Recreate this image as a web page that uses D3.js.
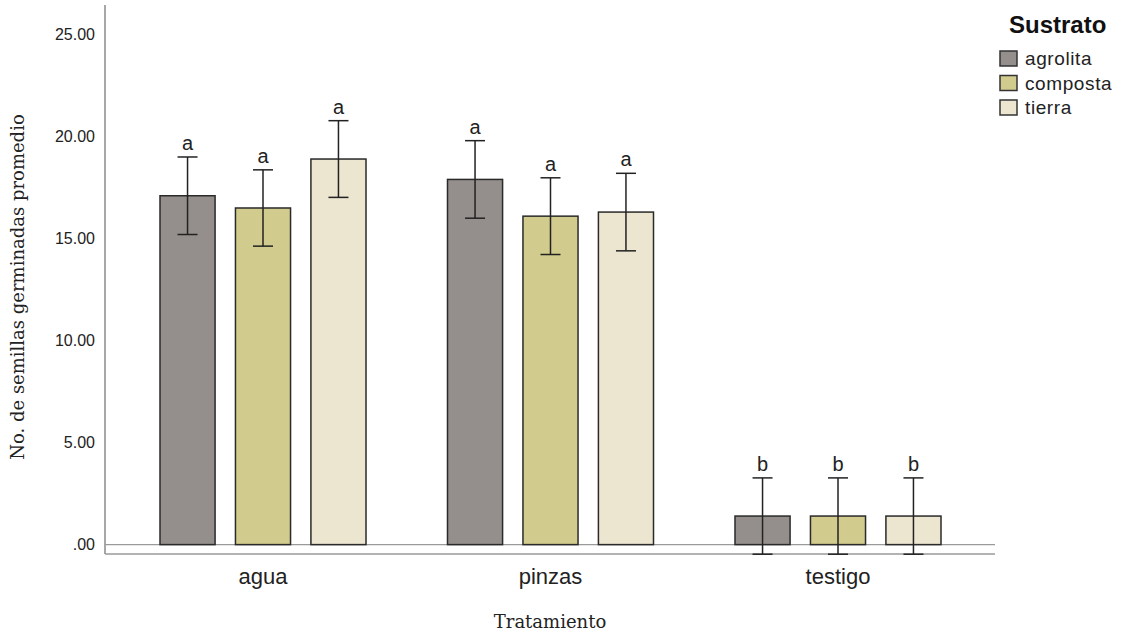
<!DOCTYPE html>
<html>
<head>
<meta charset="utf-8">
<script src="https://cdn.jsdelivr.net/npm/d3@7"></script>
<style>
  html, body { margin: 0; padding: 0; background: #fff; }
  svg { display: block; }
</style>
</head>
<body>
<svg id="chart" width="1121" height="634"></svg>
<script>
// Tratamiento groups and Sustrato series
const tratamientos = ["agua", "pinzas", "testigo"];
const sustratos = ["agrolita", "composta", "tierra"];
const colores = ["#948f8c", "#d1cb8d", "#ece5d0"];

// mean germinated seeds, one array per sustrato (in tratamiento order)
const mediaAgrolita = [17.1, 17.9, 1.4];
const mediaComposta = [16.5, 16.1, 1.4];
const mediaTierra   = [18.9, 16.3, 1.4];

// half-width of the error bars
const errorAgrolita = [1.9, 1.9, 1.87];
const errorComposta = [1.87, 1.88, 1.87];
const errorTierra   = [1.88, 1.9, 1.87];

// significance letters
const letrasAgrolita = ["a", "a", "b"];
const letrasComposta = ["a", "a", "b"];
const letrasTierra   = ["a", "a", "b"];

const yTicks = [0, 5, 10, 15, 20, 25];

const medias = [mediaAgrolita, mediaComposta, mediaTierra];
const errores = [errorAgrolita, errorComposta, errorTierra];
const letras = [letrasAgrolita, letrasComposta, letrasTierra];

const rows = [];
tratamientos.forEach((t, i) => {
  sustratos.forEach((s, j) => {
    rows.push({ t, s, j, v: medias[j][i], e: errores[j][i], l: letras[j][i] });
  });
});

const svg = d3.select("#chart");
const plot = { left: 105, right: 995, top: 5, bottom: 554 };

const y = d3.scaleLinear().domain([-0.46, 26.45]).range([plot.bottom, plot.top]);

const x0 = d3.scaleBand().domain(tratamientos)
  .range([119.25, 981.75]).paddingInner(0).paddingOuter(0);
const x1 = d3.scaleBand().domain(sustratos)
  .range([0, x0.bandwidth()]).paddingInner(0.27).paddingOuter(0.54);
const color = d3.scaleOrdinal().domain(sustratos).range(colores);

// frame: left axis, bottom axis and zero line
svg.append("line").attr("x1", plot.left).attr("x2", plot.left)
  .attr("y1", plot.top).attr("y2", plot.bottom)
  .attr("stroke", "#8a8a8a").attr("stroke-width", 1.5);
svg.append("line").attr("x1", plot.left).attr("x2", plot.right)
  .attr("y1", plot.bottom).attr("y2", plot.bottom)
  .attr("stroke", "#9a9a9a").attr("stroke-width", 1.5);
svg.append("line").attr("x1", plot.left).attr("x2", plot.right)
  .attr("y1", y(0)).attr("y2", y(0))
  .attr("stroke", "#9a9a9a").attr("stroke-width", 1.2);

// y tick labels
const yAxis = d3.axisLeft(y).tickValues(yTicks).tickSize(0).tickPadding(10)
  .tickFormat(d => d === 0 ? ".00" : d3.format(".2f")(d));
const gy = svg.append("g").attr("transform", `translate(${plot.left},0)`).call(yAxis);
gy.select(".domain").remove();
gy.selectAll("text").attr("font-family", "Liberation Sans, Arial, sans-serif")
  .attr("font-size", 16).attr("fill", "#222");

// x category labels
const xAxis = d3.axisBottom(x0).tickSize(0).tickPadding(14);
const gx = svg.append("g").attr("transform", `translate(0,${plot.bottom})`).call(xAxis);
gx.select(".domain").remove();
gx.selectAll("text").attr("font-family", "Liberation Sans, Arial, sans-serif")
  .attr("font-size", 22).attr("fill", "#222");

// bars
const barG = svg.append("g");
barG.selectAll("rect").data(rows).join("rect")
  .attr("x", d => x0(d.t) + x1(d.s))
  .attr("width", x1.bandwidth())
  .attr("y", d => y(d.v))
  .attr("height", d => y(0) - y(d.v))
  .attr("fill", d => color(d.s))
  .attr("stroke", "#2a2a2a").attr("stroke-width", 1.5);

// error bars
const cap = 10;
const errG = svg.append("g").attr("stroke", "#222").attr("stroke-width", 1.5);
rows.forEach(d => {
  const cx = x0(d.t) + x1(d.s) + x1.bandwidth() / 2;
  errG.append("line").attr("x1", cx).attr("x2", cx)
    .attr("y1", y(d.v + d.e)).attr("y2", y(d.v - d.e));
  errG.append("line").attr("x1", cx - cap).attr("x2", cx + cap)
    .attr("y1", y(d.v + d.e)).attr("y2", y(d.v + d.e));
  errG.append("line").attr("x1", cx - cap).attr("x2", cx + cap)
    .attr("y1", y(d.v - d.e)).attr("y2", y(d.v - d.e));
});

// significance letters
svg.append("g").selectAll("text").data(rows).join("text")
  .attr("x", d => x0(d.t) + x1(d.s) + x1.bandwidth() / 2)
  .attr("y", d => y(d.v + d.e) - 7)
  .attr("text-anchor", "middle")
  .attr("font-family", "Liberation Sans, Arial, sans-serif")
  .attr("font-size", 20).attr("fill", "#222")
  .text(d => d.l);

// axis titles
svg.append("text")
  .attr("transform", "translate(24,287) rotate(-90)")
  .attr("text-anchor", "middle")
  .attr("font-family", "DejaVu Serif, serif")
  .attr("font-size", 18).attr("fill", "#222")
  .text("No. de semillas germinadas promedio");
svg.append("text")
  .attr("x", 550).attr("y", 628)
  .attr("text-anchor", "middle")
  .attr("font-family", "DejaVu Serif, serif")
  .attr("font-size", 18).attr("fill", "#222")
  .text("Tratamiento");

// legend
const lg = svg.append("g");
lg.append("text").attr("x", 1009).attr("y", 33)
  .attr("font-family", "Liberation Sans, Arial, sans-serif")
  .attr("font-weight", "bold").attr("font-size", 24).attr("fill", "#111")
  .text("Sustrato");
sustratos.forEach((s, i) => {
  const yy = 51 + i * 24.5;
  lg.append("rect").attr("x", 1000).attr("y", yy).attr("width", 17).attr("height", 15)
    .attr("fill", color(s)).attr("stroke", "#333").attr("stroke-width", 1.5);
  lg.append("text").attr("x", 1025).attr("y", yy + 14)
    .attr("font-family", "Liberation Sans, Arial, sans-serif")
    .attr("font-size", 19).attr("letter-spacing", 0.6).attr("fill", "#222")
    .text(s);
});
</script>
</body>
</html>
